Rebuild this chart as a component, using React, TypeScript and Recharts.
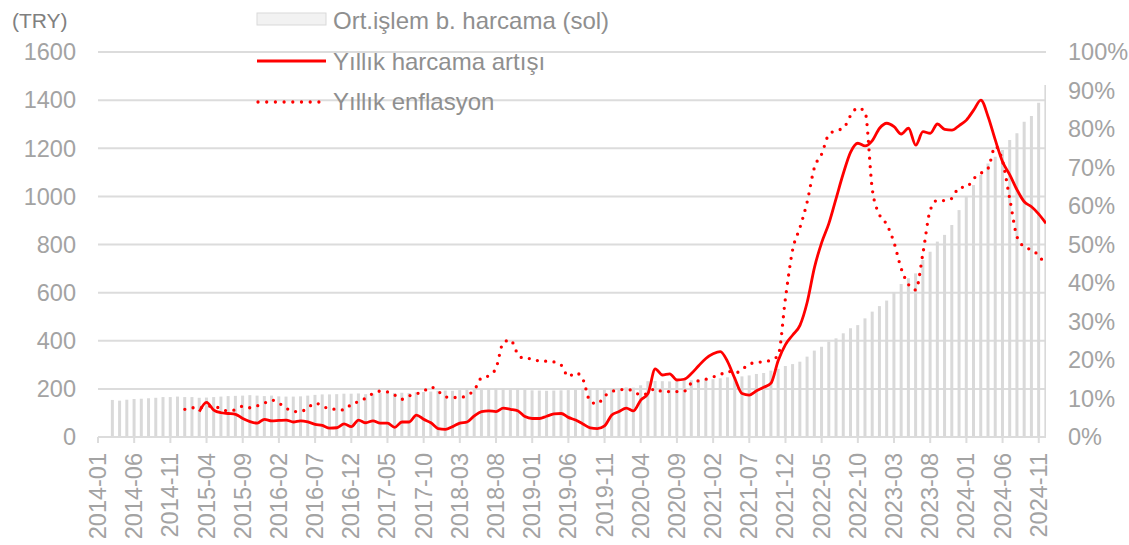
import React from "react";
import { ComposedChart, Bar, Line, XAxis, YAxis, CartesianGrid } from "recharts";

// Categories: monthly, 2014-01 .. 2024-12
const months: string[] = [];
for (let y = 2014; y <= 2024; y++) {
  for (let m = 1; m <= 12; m++) months.push(`${y}-${String(m).padStart(2, "0")}`);
}

const tickLabels = [
  "2014-01", "2014-06", "2014-11", "2015-04", "2015-09", "2016-02", "2016-07", "2016-12",
  "2017-05", "2017-10", "2018-03", "2018-08", "2019-01", "2019-06", "2019-11", "2020-04",
  "2020-09", "2021-02", "2021-07", "2021-12", "2022-05", "2022-10", "2023-03", "2023-08",
  "2024-01", "2024-06", "2024-11",
];

const leftTicks = [0, 200, 400, 600, 800, 1000, 1200, 1400, 1600];
const rightTicks = [0, 10, 20, 30, 40, 50, 60, 70, 80, 90, 100];

// Ort.işlem b. harcama (TRY), 2014-01 .. 2024-12
const avgSpend: (number | null)[] = [
  null, null, 154, 151, 155, 158, 159, 161, 163, 166, 166, 168,
  166, 166, 163, 164, 166, 168, 170, 171, 172, 174, 172, 170,
  172, 169, 168, 168, 169, 172, 175, 177, 177, 178, 180, 180,
  181, 178, 180, 183, 184, 183, 184, 183, 186, 187, 189, 192,
  193, 192, 195, 198, 198, 199, 200, 201, 198, 197, 198, 196,
  194, 193, 192, 193, 194, 195, 197, 198, 196, 196, 198, 200,
  203, 206, 205, 215, 232, 233, 232, 231, 232, 235, 236, 238,
  240, 240, 244, 248, 250, 252, 256, 262, 266, 276, 283, 295,
  303, 313, 334, 359, 375, 396, 410, 431, 452, 465, 493, 521,
  544, 567, 601, 636, 660, 680, 736, 770, 812, 840, 881, 943,
  999, 1047, 1089, 1137, 1165, 1193, 1234, 1262, 1310, 1334, 1389, 1463,
];

// Yıllık harcama artışı (%)
const spendGrowth: (number | null)[] = [
  null, null, null, null, null, null, null, null, null, null, null, null,
  null, null, 6.6, 9.0, 7.0, 6.3, 6.1, 5.9, 4.8, 4.0, 3.6, 4.6,
  4.2, 4.3, 4.4, 3.9, 4.2, 3.9, 3.3, 3.0, 2.3, 2.4, 3.4, 2.7,
  4.4, 3.7, 4.2, 3.6, 3.6, 2.5, 3.9, 3.9, 5.7, 4.6, 3.7, 2.2,
  2.0, 2.7, 3.6, 3.9, 5.5, 6.6, 6.8, 6.6, 7.5, 7.2, 6.8, 5.3,
  4.8, 4.8, 5.4, 6.0, 6.1, 5.1, 4.4, 3.4, 2.4, 2.2, 2.9, 5.7,
  6.6, 7.5, 6.8, 9.6, 11.3, 17.7, 16.1, 16.4, 14.8, 15.0, 16.5, 18.5,
  20.4, 21.6, 22.2, 19.6, 15.2, 11.3, 10.9, 12.0, 12.9, 14.0, 19.9, 24.0,
  26.5, 29.0, 35.0, 44.0, 50.5, 55.5, 62.0, 68.5, 74.0, 76.3, 75.6, 77.0,
  80.2, 81.5, 80.6, 78.7, 80.2, 75.8, 79.3, 78.9, 81.3, 79.9, 79.7, 80.9,
  82.3, 84.9, 87.5, 83.2, 77.1, 71.5, 68.1, 64.2, 61.1, 59.8, 57.9, 55.5,
];

// Yıllık enflasyon (%)
const inflation: (number | null)[] = [
  null, null, null, null, null, null, null, null, null, null, null, null,
  7.2, 7.6, 7.6, 7.9, 8.1, 7.2, 6.8, 7.1, 8.0, 7.6, 8.1, 8.8,
  9.6, 8.8, 7.5, 6.6, 6.6, 7.6, 8.8, 8.1, 7.3, 7.2, 7.0, 8.5,
  9.2, 10.1, 11.3, 11.9, 11.7, 10.9, 9.8, 10.7, 11.2, 11.9, 13.0, 11.9,
  10.4, 10.3, 10.2, 10.9, 12.2, 15.4, 15.9, 17.9, 24.5, 25.2, 21.6, 20.3,
  20.4, 19.7, 19.7, 19.5, 18.7, 15.7, 16.7, 15.0, 9.3, 8.6, 10.6, 11.8,
  12.2, 12.4, 11.9, 10.9, 11.4, 12.6, 11.8, 11.8, 11.8, 11.9, 14.0, 14.6,
  15.0, 15.6, 16.2, 17.1, 16.6, 17.5, 19.0, 19.3, 19.6, 19.9, 21.3, 36.1,
  48.7, 54.4, 61.1, 70.0, 73.5, 78.6, 79.6, 80.2, 83.5, 85.5, 84.4, 64.3,
  57.7, 55.2, 50.5, 43.7, 39.6, 38.2, 47.8, 58.9, 61.5, 61.4, 62.0, 64.8,
  64.9, 67.1, 68.5, 69.8, 75.5, 71.6, 61.8, 52.0, 49.4, 48.6, 47.1, 44.4,
];

const data = months.map((m, i) => ({
  i,
  month: m,
  avg: avgSpend[i],
  growth: spendGrowth[i],
  cpi: inflation[i],
}));

const tickIdx = tickLabels.map((l) => months.indexOf(l));

const FONT = '"Liberation Sans", Arial, sans-serif';
const TICK_COLOR = "#a3a3a3";
const GRID = "#dcdcdc";
const RED = "#ff0000";

const XTick = (props: any) => {
  const { x, y, payload } = props;
  const ty = y + 8;
  return (
    <text
      x={x}
      y={ty}
      transform={`rotate(-90, ${x}, ${ty})`}
      textAnchor="end"
      dominantBaseline="central"
      fontSize={23.5}
      fontFamily={FONT}
      fill={TICK_COLOR}
    >
      {months[payload.value]}
    </text>
  );
};

export default function App() {
  return (
    <div style={{ position: "relative", width: 1129, height: 545, background: "#fff" }}>
      <style>{"body{margin:0;}"}</style>
      <ComposedChart
        width={1129}
        height={545}
        data={data}
        margin={{ top: 52, right: 8, bottom: 0, left: 8 }}
      >
        <CartesianGrid yAxisId="left" vertical={false} stroke={GRID} strokeWidth={2} />
        <XAxis
          dataKey="i"
          type="number"
          domain={[0, 131]}
          ticks={tickIdx}
          interval={0}
          height={108}
          tick={<XTick />}
          tickSize={6}
          tickLine={{ stroke: GRID, strokeWidth: 2 }}
          axisLine={{ stroke: GRID, strokeWidth: 2 }}
          allowDataOverflow
        />
        <YAxis
          yAxisId="left"
          orientation="left"
          width={90}
          domain={[0, 1600]}
          ticks={leftTicks}
          interval={0}
          axisLine={false}
          tickLine={false}
          tickSize={0}
          tickMargin={22}
          tick={{ fontSize: 23.5, fontFamily: FONT, fill: TICK_COLOR }}
        />
        <YAxis
          yAxisId="right"
          orientation="right"
          width={75}
          domain={[0, 100]}
          ticks={rightTicks}
          interval={0}
          axisLine={false}
          tickLine={false}
          tickSize={0}
          tickMargin={22}
          tickFormatter={(v: number) => `${v}%`}
          tick={{ fontSize: 23.5, fontFamily: FONT, fill: TICK_COLOR, textAnchor: "start" }}
        />
        <Bar
          yAxisId="left"
          dataKey="avg"
          fill="#d9d9d9"
          barSize={3}
          isAnimationActive={false}
        />
        <Line
          yAxisId="right"
          dataKey="cpi"
          type="monotone"
          stroke={RED}
          strokeWidth={3.3}
          strokeDasharray="0 8.4"
          strokeLinecap="round"
          dot={false}
          activeDot={false}
          isAnimationActive={false}
        />
        <Line
          yAxisId="right"
          dataKey="growth"
          type="monotone"
          stroke={RED}
          strokeWidth={2.8}
          dot={false}
          activeDot={false}
          isAnimationActive={false}
        />
      </ComposedChart>
      <svg
        width={1129}
        height={545}
        style={{ position: "absolute", left: 0, top: 0, pointerEvents: "none" }}
      >
        <text x={12} y={20} dominantBaseline="central" fontSize={21} fontFamily={FONT} fill="#808080">
          (TRY)
        </text>
        <rect x={257} y={13} width={69} height={12} fill="#f2f2f2" stroke="#d9d9d9" strokeWidth={1} />
        <text x={333} y={20} dominantBaseline="central" fontSize={24} fontFamily={FONT} fill="#8f8f8f">
          Ort.işlem b. harcama (sol)
        </text>
        <line x1={257} y1={61} x2={326} y2={61} stroke={RED} strokeWidth={3} />
        <text x={333} y={61} dominantBaseline="central" fontSize={24} fontFamily={FONT} fill="#8f8f8f">
          Yıllık harcama artışı
        </text>
        <line
          x1={258}
          y1={102}
          x2={320}
          y2={102}
          stroke={RED}
          strokeWidth={3.3}
          strokeDasharray="0 8.7"
          strokeLinecap="round"
        />
        <text x={333} y={101} dominantBaseline="central" fontSize={24} fontFamily={FONT} fill="#8f8f8f">
          Yıllık enflasyon
        </text>
      </svg>
    </div>
  );
}
